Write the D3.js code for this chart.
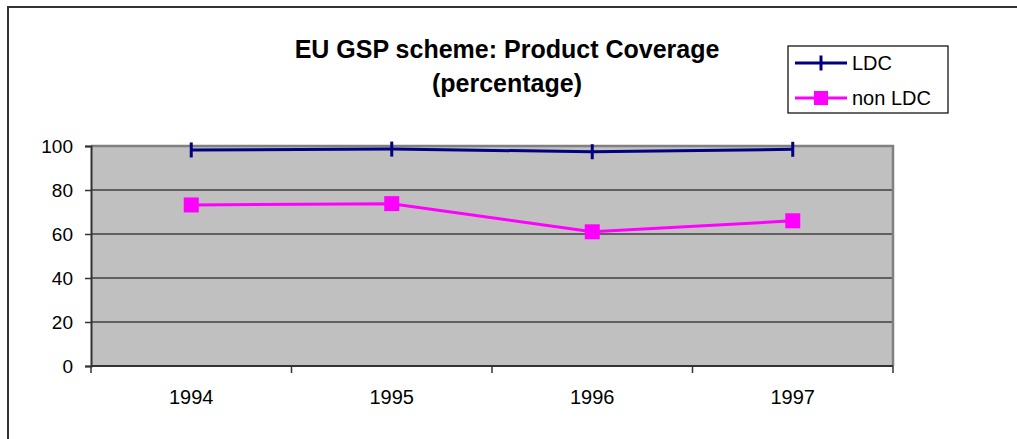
<!DOCTYPE html>
<html>
<head>
<meta charset="utf-8">
<script src="https://cdn.jsdelivr.net/npm/d3@7"></script>
<style>
  body { margin: 0; background: #fff; }
  svg { display: block; font-family: Arial, "Liberation Sans", sans-serif; }
</style>
</head>
<body>
<svg id="chart" width="1017" height="439"></svg>
<script>
// data
var years = ['1994', '1995', '1996', '1997'];
var ldc = [98.2, 98.6, 97.4, 98.5];
var nonLdc = [73.2, 73.8, 61.0, 66.0];
var yTicks = [0, 20, 40, 60, 80, 100];
var seriesNames = ['LDC', 'non LDC'];

var svg = d3.select('#chart');

// outer frame (runs off the right and bottom of the picture)
svg.append('rect')
  .attr('x', 8).attr('y', 7)
  .attr('width', 1040).attr('height', 460)
  .attr('fill', 'none')
  .attr('stroke', '#333').attr('stroke-width', 2);

// note: "top" is taken by window.top, so use other names
var plotL = 91, plotR = 893, plotT = 146, plotB = 366;

var x = d3.scaleBand().domain(years).range([plotL, plotR]);
var y = d3.scaleLinear().domain([0, 100]).range([plotB, plotT]);

// plot area
svg.append('rect')
  .attr('x', plotL).attr('y', plotT)
  .attr('width', plotR - plotL).attr('height', plotB - plotT)
  .attr('fill', '#c0c0c0');

// gridlines
svg.selectAll('.grid')
  .data(yTicks.filter(function(d) { return d > 0 && d < 100; }))
  .enter().append('line')
  .attr('x1', plotL).attr('x2', plotR)
  .attr('y1', function(d) { return y(d); })
  .attr('y2', function(d) { return y(d); })
  .attr('stroke', '#000').attr('stroke-width', 1.2);

// gray top and right border
svg.append('path')
  .attr('d', 'M' + plotL + ',' + y(100) + 'H' + plotR + 'V' + plotB)
  .attr('fill', 'none')
  .attr('stroke', '#808080').attr('stroke-width', 2.5);

// y axis
var yAxis = svg.append('g')
  .attr('transform', 'translate(' + plotL + ',0)')
  .call(d3.axisLeft(y).tickValues(yTicks).tickSize(6).tickPadding(12));
yAxis.select('.domain').attr('stroke', '#333').attr('stroke-width', 2);
yAxis.selectAll('.tick line').attr('stroke', '#333').attr('stroke-width', 1.5);
yAxis.selectAll('text')
  .attr('font-size', 19).attr('fill', '#000')
  .attr('font-family', 'Arial, "Liberation Sans", sans-serif');

// x axis: ticks on the category edges, labels in the middle
svg.append('line')
  .attr('x1', plotL).attr('x2', plotR)
  .attr('y1', plotB).attr('y2', plotB)
  .attr('stroke', '#333').attr('stroke-width', 2);
var edges = years.map(function(d) { return x(d); }).concat([plotR]);
svg.selectAll('.xtick')
  .data(edges)
  .enter().append('line')
  .attr('x1', function(d) { return d; }).attr('x2', function(d) { return d; })
  .attr('y1', plotB).attr('y2', plotB + 7)
  .attr('stroke', '#333').attr('stroke-width', 1.5);
svg.selectAll('.xlabel')
  .data(years)
  .enter().append('text')
  .attr('x', function(d) { return x(d) + x.bandwidth() / 2; })
  .attr('y', 404)
  .attr('text-anchor', 'middle')
  .attr('font-size', 20)
  .text(function(d) { return d; });

var cx = function(d, i) { return x(years[i]) + x.bandwidth() / 2; };
var line = d3.line()
  .x(function(d, i) { return cx(d, i); })
  .y(function(d) { return y(d); });

// LDC series
svg.append('path')
  .datum(ldc)
  .attr('d', line)
  .attr('fill', 'none')
  .attr('stroke', '#000080').attr('stroke-width', 3);
svg.selectAll('.ldcMark')
  .data(ldc)
  .enter().append('line')
  .attr('x1', cx).attr('x2', cx)
  .attr('y1', function(d) { return y(d) - 7.5; })
  .attr('y2', function(d) { return y(d) + 7.5; })
  .attr('stroke', '#000080').attr('stroke-width', 3);

// non LDC series
svg.append('path')
  .datum(nonLdc)
  .attr('d', line)
  .attr('fill', 'none')
  .attr('stroke', '#ff00ff').attr('stroke-width', 3);
svg.selectAll('.nonMark')
  .data(nonLdc)
  .enter().append('rect')
  .attr('x', function(d, i) { return cx(d, i) - 7.5; })
  .attr('y', function(d) { return y(d) - 7.5; })
  .attr('width', 15).attr('height', 15)
  .attr('fill', '#ff00ff');

// title
var title = svg.append('text')
  .attr('text-anchor', 'middle')
  .attr('font-size', 25)
  .attr('font-weight', 'bold');
title.append('tspan').attr('x', 507).attr('y', 58).text('EU GSP scheme: Product Coverage');
title.append('tspan').attr('x', 507).attr('y', 92).text('(percentage)');

// legend
var lg = svg.append('g');
lg.append('rect')
  .attr('x', 788).attr('y', 46)
  .attr('width', 160).attr('height', 67)
  .attr('fill', '#fff')
  .attr('stroke', '#000').attr('stroke-width', 1.2);
var rows = [
  { name: seriesNames[0], color: '#000080', y: 63 },
  { name: seriesNames[1], color: '#ff00ff', y: 98 }
];
rows.forEach(function(r, i) {
  lg.append('line')
    .attr('x1', 795).attr('x2', 847)
    .attr('y1', r.y).attr('y2', r.y)
    .attr('stroke', r.color).attr('stroke-width', 3);
  if (i === 0) {
    lg.append('line')
      .attr('x1', 821).attr('x2', 821)
      .attr('y1', r.y - 7.5).attr('y2', r.y + 7.5)
      .attr('stroke', r.color).attr('stroke-width', 3);
  } else {
    lg.append('rect')
      .attr('x', 814).attr('y', r.y - 7)
      .attr('width', 14).attr('height', 14)
      .attr('fill', r.color);
  }
  lg.append('text')
    .attr('x', 852).attr('y', r.y + 7)
    .attr('font-size', 20)
    .text(r.name);
});
</script>
</body>
</html>
